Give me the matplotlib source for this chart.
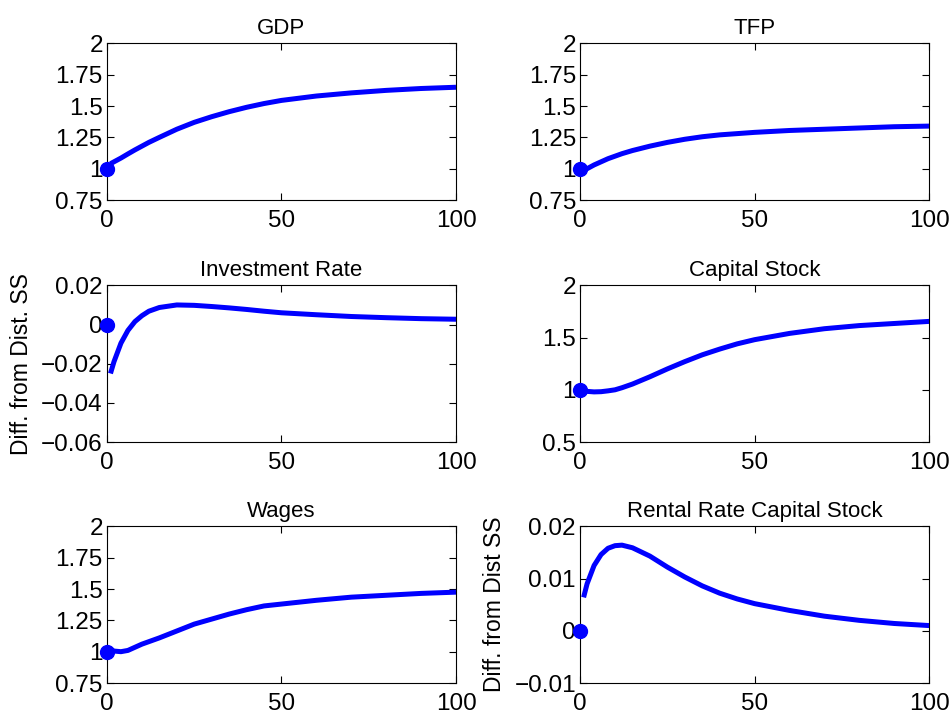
import numpy as np
import matplotlib
matplotlib.use("Agg")
import matplotlib.pyplot as plt

plt.rcParams['font.family'] = ['Liberation Sans', 'DejaVu Sans']

# periods
t = [1, 2, 4, 6, 8, 10, 12, 15, 20, 25, 30, 35, 40, 45, 50, 60, 70, 80, 90, 100]

gdp = [1.04, 1.055, 1.085, 1.118, 1.15, 1.18, 1.21, 1.25, 1.315, 1.37, 1.415, 1.455, 1.49, 1.52, 1.545, 1.58, 1.605, 1.625, 1.64, 1.65]
tfp = [0.985, 1.0, 1.03, 1.055, 1.08, 1.10, 1.12, 1.145, 1.18, 1.21, 1.235, 1.255, 1.27, 1.28, 1.29, 1.305, 1.315, 1.325, 1.335, 1.34]
inv = [-0.025, -0.019, -0.0095, -0.003, 0.0015, 0.0045, 0.0068, 0.0087, 0.0100, 0.0098, 0.0092, 0.0085, 0.0077, 0.0068, 0.0060, 0.0050, 0.0041, 0.0035, 0.0030, 0.0027]
cap = [0.99, 0.985, 0.98, 0.982, 0.99, 1.0, 1.02, 1.055, 1.125, 1.20, 1.27, 1.335, 1.39, 1.44, 1.48, 1.54, 1.585, 1.615, 1.635, 1.655]
wages = [1.02, 1.005, 1.0, 1.01, 1.035, 1.06, 1.08, 1.11, 1.165, 1.22, 1.26, 1.30, 1.335, 1.365, 1.38, 1.41, 1.435, 1.45, 1.465, 1.475]
rental = [0.0064, 0.009, 0.0125, 0.0146, 0.0158, 0.0163, 0.0164, 0.0159, 0.0143, 0.0122, 0.0103, 0.0086, 0.0072, 0.0061, 0.0052, 0.0039, 0.0028, 0.0020, 0.0014, 0.0010]

start = [1, 1, 0, 1, 1, 0]  # value at period 0 (the dot)

titles = ["GDP", "TFP", "Investment Rate", "Capital Stock", "Wages", "Rental Rate Capital Stock"]
series = [gdp, tfp, inv, cap, wages, rental]
ylims = [(0.75, 2), (0.75, 2), (-0.06, 0.02), (0.5, 2), (0.75, 2), (-0.01, 0.02)]
yticks = [[0.75, 1, 1.25, 1.5, 1.75, 2], [0.75, 1, 1.25, 1.5, 1.75, 2],
          [-0.06, -0.04, -0.02, 0, 0.02], [0.5, 1, 1.5, 2],
          [0.75, 1, 1.25, 1.5, 1.75, 2], [-0.01, 0, 0.01, 0.02]]
ytlabels = [["0.75", "1", "1.25", "1.5", "1.75", "2"], ["0.75", "1", "1.25", "1.5", "1.75", "2"],
            ["\u22120.06", "\u22120.04", "\u22120.02", "0", "0.02"], ["0.5", "1", "1.5", "2"],
            ["0.75", "1", "1.25", "1.5", "1.75", "2"], ["\u22120.01", "0", "0.01", "0.02"]]
ylabels = ["", "", "Diff. from Dist. SS", "", "", "Diff. from Dist SS"]

fig = plt.figure(figsize=(9.51, 7.17), dpi=100)

lefts = [0.1125, 0.610]
bottoms = [0.721, 0.3835, 0.0474]
w, h = 0.367, 0.2185

for i in range(6):
    ax = fig.add_axes([lefts[i % 2], bottoms[i // 2], w, h])
    ax.plot(t, series[i], color=(0, 0, 1), lw=3.6, solid_capstyle='butt')
    ax.plot([0], [start[i]], 'o', color=(0, 0, 1), ms=10, clip_on=False, zorder=5)
    ax.set_xlim(0, 100)
    ax.set_ylim(*ylims[i])
    ax.set_xticks([0, 50, 100])
    ax.set_yticks(yticks[i])
    ax.set_yticklabels(ytlabels[i])
    ax.tick_params(direction='in', top=True, right=True, labelsize=17.5, length=5, width=0.8)
    ax.tick_params(axis='y', pad=3)
    ax.tick_params(axis='x', pad=7)
    ax.set_title(titles[i], fontsize=16, pad=7)
    if ylabels[i]:
        ax.set_ylabel(ylabels[i], fontsize=16.5, labelpad=6)
    for s in ax.spines.values():
        s.set_linewidth(0.8)

fig.savefig("out.png", dpi=100)
